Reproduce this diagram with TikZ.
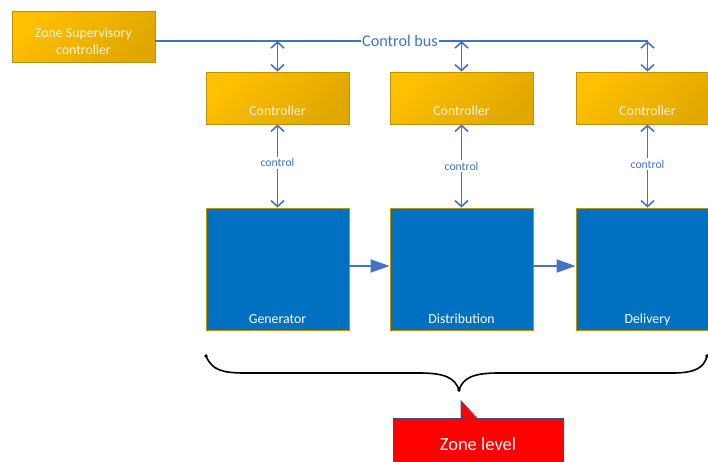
\documentclass[tikz,border=0pt]{standalone}
\usepackage{fontspec}
\setmainfont{Carlito}
\usetikzlibrary{arrows.meta}
\definecolor{gold}{HTML}{FFC000}
\definecolor{golddark}{HTML}{E0A700}
\definecolor{goldline}{HTML}{BF9000}
\definecolor{boxblue}{HTML}{0070C0}
\definecolor{linkblue}{HTML}{4472C4}
\definecolor{calloutline}{HTML}{2F528F}
\definecolor{lighttext}{HTML}{FFF6DC}
\begin{document}
\begin{tikzpicture}[x=1pt,y=-1pt,
  ctrlbox/.style={draw=goldline, line width=0.8pt, top color=gold, bottom color=golddark, shading angle=45,
    minimum width=143pt, minimum height=52pt, inner sep=0pt},
  unitbox/.style={draw=goldline, line width=0.8pt, fill=boxblue,
    minimum width=143pt, minimum height=122pt, inner sep=0pt},
  boxtxt/.style={text=lighttext, font=\fontsize{13.8}{17}\selectfont, inner sep=0pt},
  bustxt/.style={text=linkblue, font=\fontsize{16.2}{19}\selectfont, fill=white, inner sep=1pt},
  ctltxt/.style={text=linkblue, font=\fontsize{11.7}{14}\selectfont, fill=white, inner sep=2pt},
  bus/.style={draw=linkblue, line width=1.6pt},
  dbl/.style={draw=linkblue, line width=1.6pt, {Straight Barb[length=6pt,width=13pt,line width=1.6pt]}-{Straight Barb[length=6pt,width=13pt,line width=1.6pt]}},
  flow/.style={draw=linkblue, line width=1.8pt, -{Triangle[length=19pt,width=13pt]}},
  bracestyle/.style={draw=black, line width=1.6pt, line cap=round},
  callout/.style={fill=red, draw=calloutline, line width=0.6pt, text=white,
    font=\fontsize{18.5}{22}\selectfont, minimum width=170pt, minimum height=52pt, inner sep=0pt}
]
\useasboundingbox (0,0) rectangle (708,461);
\clip (0,0) rectangle (708,461);

% supervisory controller
\node[ctrlbox, minimum height=51pt,
  label={[boxtxt, align=center, anchor=center, yshift=-4.5pt]center:{Zone Supervisory\\controller}}] (zsc) at (83.5,36.5) {};

% controllers
\node[ctrlbox, label={[boxtxt, anchor=base, yshift=8.5pt]south:Controller}] (c1) at (277.5,98) {};
\node[ctrlbox, label={[boxtxt, anchor=base, yshift=8.5pt]south:Controller}] (c2) at (461.5,98) {};
\node[ctrlbox, label={[boxtxt, anchor=base, yshift=8.5pt]south:Controller}] (c3) at (647.5,98) {};

% units
\node[unitbox, label={[boxtxt, text=white, anchor=base, yshift=6.5pt]south:Generator}] (b1) at (277.5,269) {};
\node[unitbox, label={[boxtxt, text=white, anchor=base, yshift=6.5pt]south:Distribution}] (b2) at (461.5,269) {};
\node[unitbox, label={[boxtxt, text=white, anchor=base, yshift=6.5pt]south:Delivery}] (b3) at (647.5,269) {};

% control bus
\coordinate (busend) at (647.5,41);
\draw[bus] ([yshift=-4.5pt]zsc.east) -- (busend);
\node[bustxt] (buslbl) at (400,41) {Control bus};

\draw[dbl] (c1.north |- busend) -- (c1.north);
\draw[dbl] (c2.north |- busend) -- (c2.north);
\draw[dbl] (busend) -- (c3.north);

% controller to unit
\draw[dbl] (c1.south) -- node[ctltxt, pos=0.46] {control} (b1.north);
\draw[dbl] (c2.south) -- node[ctltxt, pos=0.5] {control} (b2.north);
\draw[dbl] (c3.south) -- node[ctltxt, pos=0.48] {control} (b3.north);

% flow arrows
\draw[flow] ([yshift=3pt]b1.east) -- ([yshift=3pt]b2.west);
\draw[flow] ([yshift=3pt]b2.east) -- ([yshift=3pt]b3.west);

% brace
\coordinate (brL) at (206,356);
\coordinate (brT) at (459,390);
\coordinate (brR) at (707,356);
\draw[bracestyle] (brL) .. controls (212,370) and (222,373) .. (245,373) -- (420,373)
  .. controls (445,373) and (455,378) .. (brT)
  .. controls (463,378) and (473,373) .. (498,373) -- (672,373)
  .. controls (695,373) and (704,368) .. (brR);
\fill (brL) circle (1.8pt);
\fill (brR) circle (1.8pt);
\fill (brT) circle (1.8pt);

% callout
\node[callout] (zl) at (478,444) {Zone level};
\fill[red] ([xshift=-17pt,yshift=-1pt]zl.north) -- ([xshift=-17pt,yshift=17pt]zl.north) -- ([xshift=-1pt,yshift=-1pt]zl.north) -- cycle;
\draw[calloutline, line width=0.6pt] ([xshift=-17pt]zl.north) -- ([xshift=-17pt,yshift=17pt]zl.north) -- ([xshift=-1pt]zl.north);
\end{tikzpicture}
\end{document}
